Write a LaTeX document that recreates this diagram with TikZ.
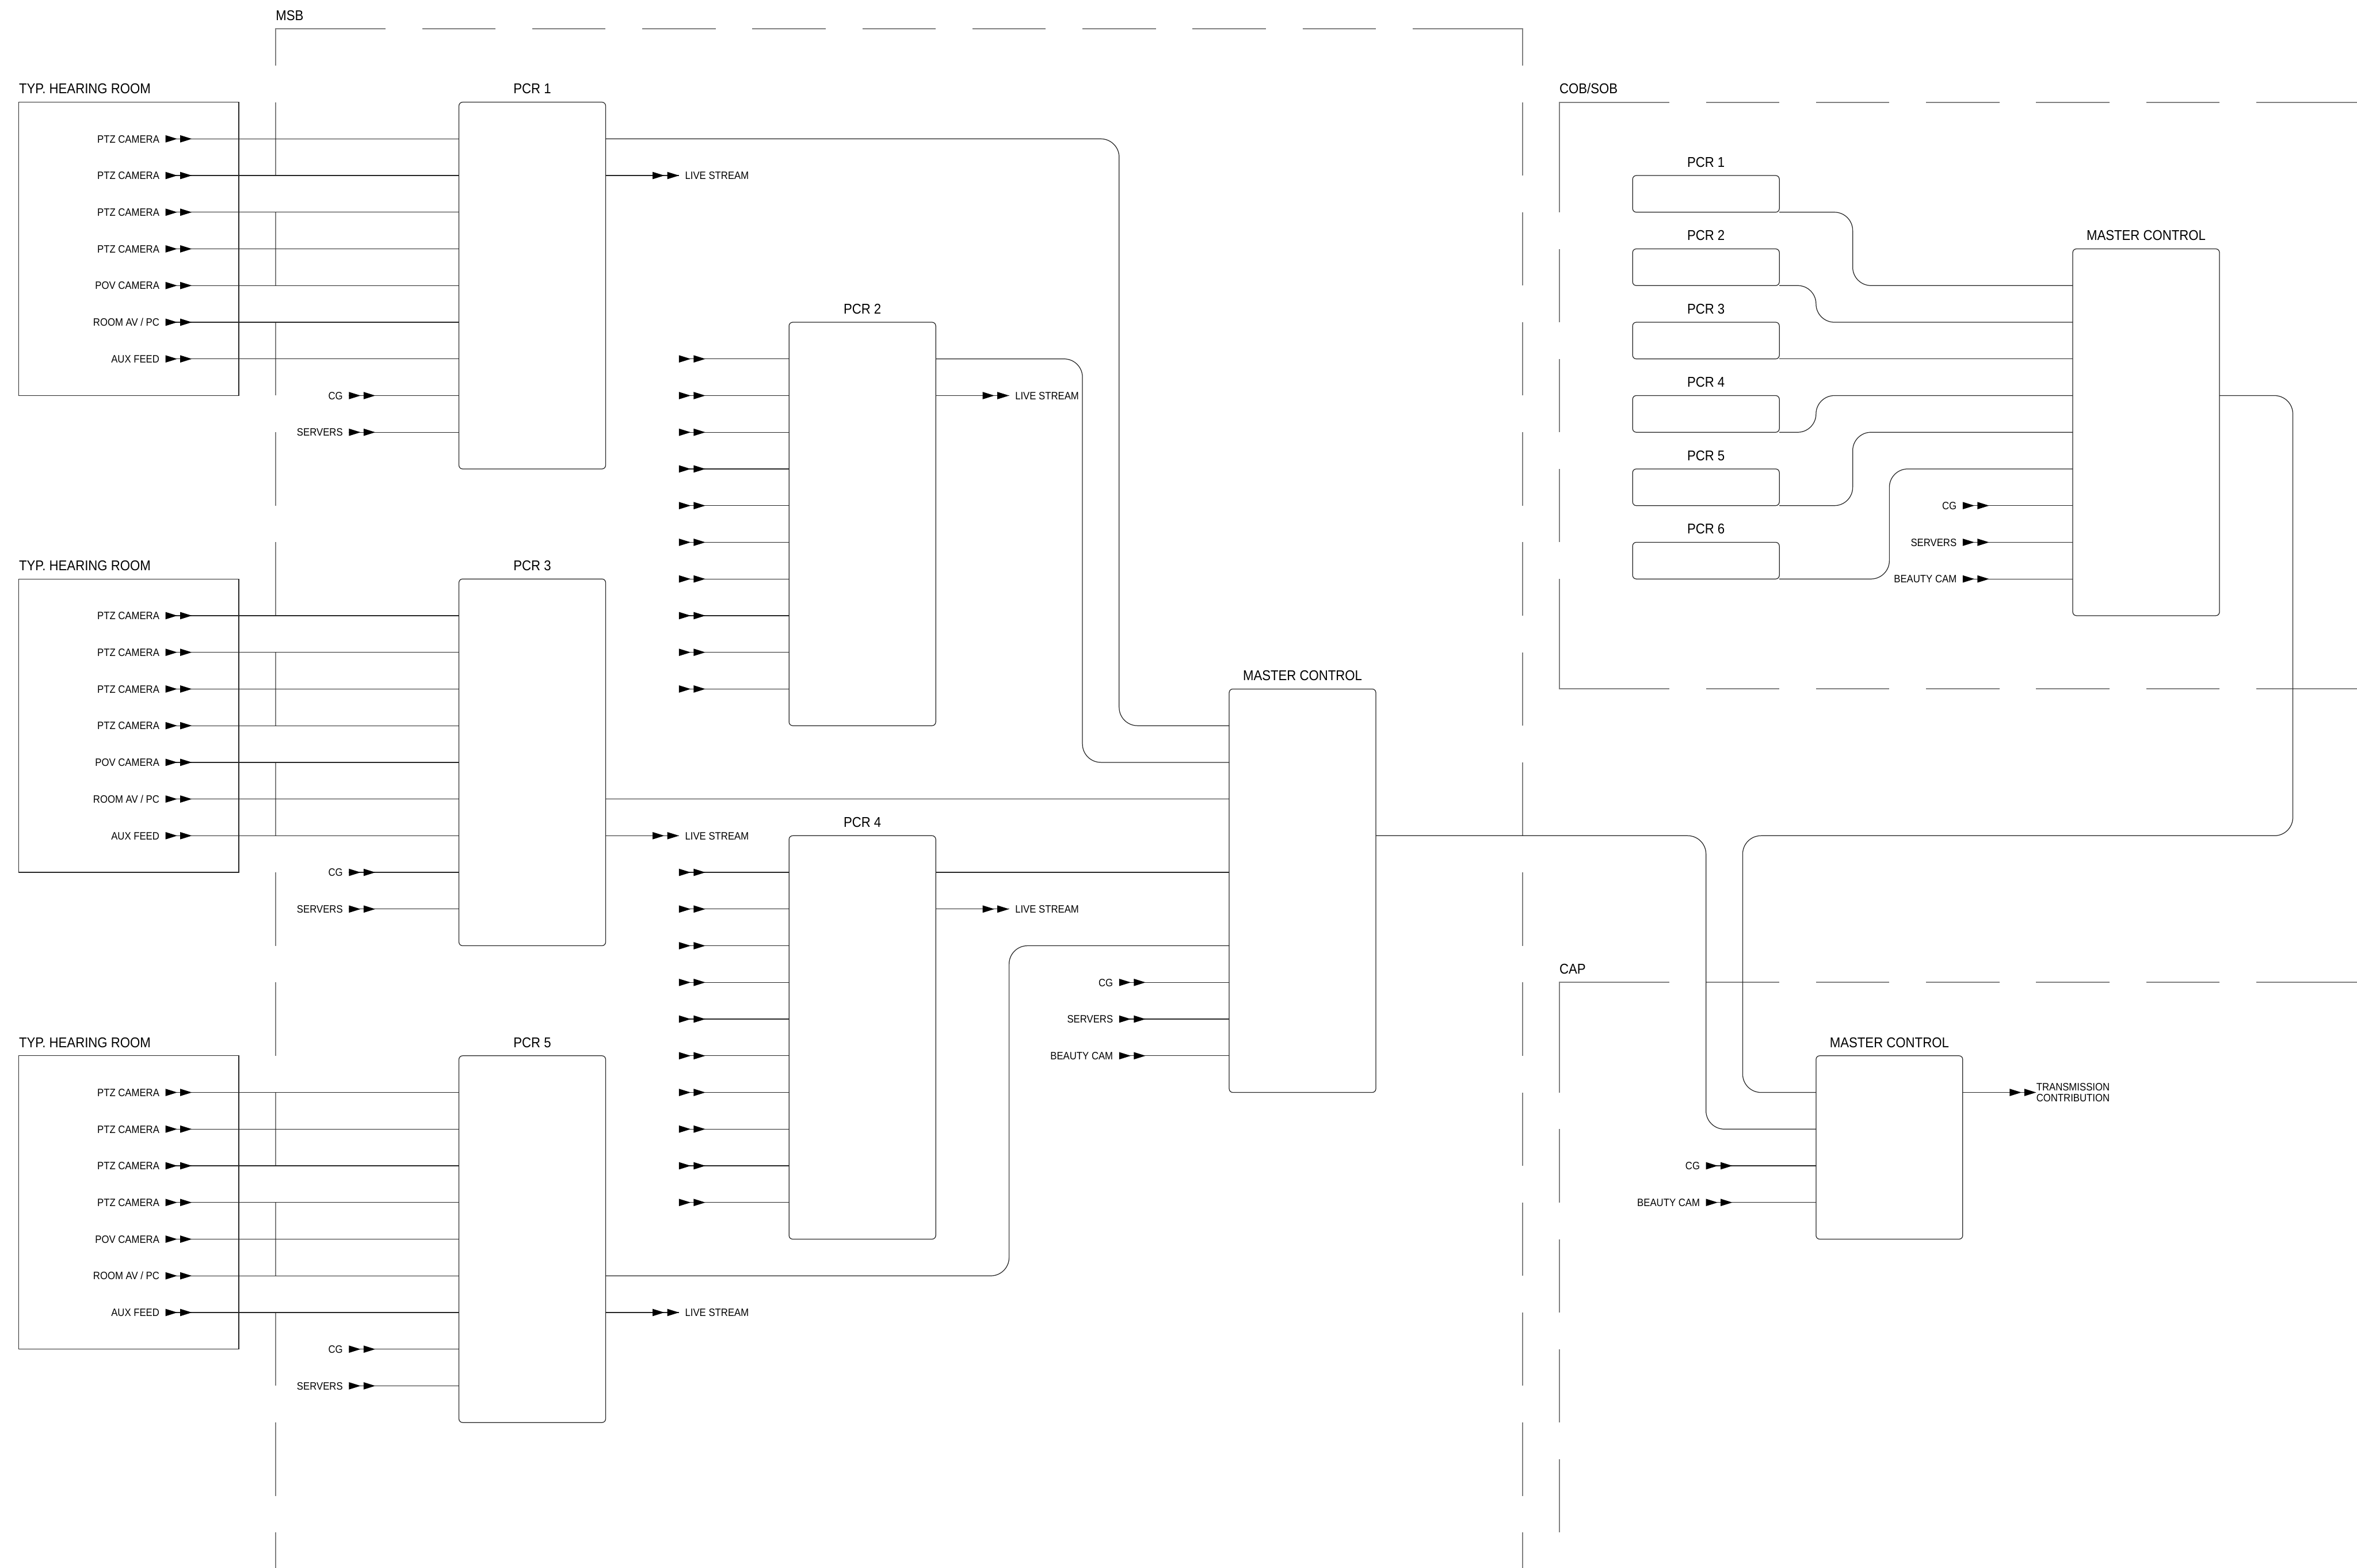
\documentclass[tikz,border=0pt]{standalone}
\usepackage{fontspec}
\setmainfont{Liberation Sans}[FakeStretch=0.9]
\usetikzlibrary{decorations.markings}
\begin{document}
\begin{tikzpicture}[x=1cm,y=-1cm,
  conn/.style={draw=black!85, line width=0.55pt},
  rt/.style={conn, rounded corners=0.5cm},
  pbox/.style={draw=black!85, line width=0.55pt, rounded corners=0.1cm, inner sep=0pt, outer sep=0pt, anchor=north west},
  roombox/.style={draw=black!85, line width=0.55pt, inner sep=0pt, outer sep=0pt, anchor=north west, minimum width=6cm, minimum height=8cm},
  region/.style={draw=black!50, line width=0.9pt},
  rdash/.style={region, dash pattern=on 2cm off 1cm},
  title/.style={font=\fontsize{11}{13}\selectfont, inner sep=0pt, anchor=base},
  ltitle/.style={title, anchor=base west},
  sig/.style={font=\fontsize{8.3}{9}\selectfont, text height=6pt, text depth=0pt, inner ysep=0pt, inner xsep=0.16cm, anchor=east},
  outl/.style={sig, anchor=west},
  inarr/.style={conn, postaction={decorate}, decoration={markings, mark=at position 0pt with {\fill[black] (0,-0.1) -- (0.32,0) -- (0,0.1) -- cycle; \fill[black] (0.4,-0.1) -- (0.72,0) -- (0.4,0.1) -- cycle;}}},
  outarr/.style={conn, postaction={decorate}, decoration={markings, mark=at position 0pt with {\fill[black] (0,0) -- (0.32,-0.1) -- (0.32,0.1) -- cycle; \fill[black] (0.4,0) -- (0.72,-0.1) -- (0.72,0.1) -- cycle;}}}
]
\useasboundingbox (-0.5125,-2.786) rectangle (63.75,39.964);
\clip (-0.5125,-2.786) rectangle (63.75,39.964);

% ---------------- regions ----------------
% MSB
\draw[rdash, dash phase=1cm] (7,-2) -- (7,41);
\draw[rdash, dash phase=1cm] (41,-2) -- (41,41);
\draw[rdash, dash phase=2cm] (7,-2) -- (41,-2);
\draw[region] (7,-1) -- (7,-2) -- (8,-2);
\draw[region] (40,-2) -- (41,-2) -- (41,-1);
\node[ltitle] (msbt) at (7,-2.23) {MSB};
% COB/SOB
\draw[rdash, dash phase=2cm] (42,0) -- (64,0);
\draw[rdash, dash phase=2cm] (42,16) -- (64,16);
\draw[rdash, dash phase=2cm] (42,0) -- (42,16);
\draw[region] (43,0) -- (42,0) -- (42,1);
\draw[region] (42,15) -- (42,16) -- (43,16);
\draw[region] (63,0) -- (64,0);
\draw[region] (63,16) -- (64,16);
\node[ltitle] (cobt) at (42,-0.23) {COB/SOB};
% CAP
\draw[rdash, dash phase=2cm] (42,24) -- (64,24);
\draw[rdash, dash phase=2cm] (42,24) -- (42,41);
\draw[region] (43,24) -- (42,24) -- (42,25);
\draw[region] (63,24) -- (64,24);
\node[ltitle] (capt) at (42,23.77) {CAP};

% ---------------- MSB boxes ----------------
\node[pbox, minimum width=4cm, minimum height=10cm] (mp1) at (12,0) {};
\node[pbox, minimum width=4cm, minimum height=11cm] (mp2) at (21,6) {};
\node[pbox, minimum width=4cm, minimum height=10cm] (mp3) at (12,13) {};
\node[pbox, minimum width=4cm, minimum height=11cm] (mp4) at (21,20) {};
\node[pbox, minimum width=4cm, minimum height=10cm] (mp5) at (12,26) {};
\node[pbox, minimum width=4cm, minimum height=11cm] (mmc) at (33,16) {};
\foreach \b/\t in {mp1/PCR 1,mp2/PCR 2,mp3/PCR 3,mp4/PCR 4,mp5/PCR 5,mmc/MASTER CONTROL}{
  \node[title] (\b t) at ([yshift=0.23cm]\b.north) {\t};
}

% hearing rooms and their feeds
\foreach \r/\ty/\p in {1/0/mp1,2/13/mp3,3/26/mp5}{
  \node[roombox] (room\r) at (0,\ty) {};
  \node[ltitle] (roomt\r) at ([yshift=0.23cm]room\r.north west) {TYP. HEARING ROOM};
  \foreach \t [count=\j] in {{PTZ CAMERA},{PTZ CAMERA},{PTZ CAMERA},{PTZ CAMERA},{POV CAMERA},{ROOM AV / PC},{AUX FEED}}{
    \node[sig] (r\r\j) at (4,\ty+\j) {\t};
    \draw[inarr] (r\r\j.east) -- (\p.west |- r\r\j.east);
  }
  \node[sig] (r\r8) at (9,\ty+8) {CG};
  \draw[inarr] (r\r8.east) -- (\p.west |- r\r8.east);
  \node[sig] (r\r9) at (9,\ty+9) {SERVERS};
  \draw[inarr] (r\r9.east) -- (\p.west |- r\r9.east);
}

% PCR 2 / PCR 4 unlabelled inputs
\foreach \k in {7,...,16}{
  \coordinate (atwo\k) at (18,\k);
  \draw[inarr] (atwo\k) -- (mp2.west |- atwo\k);
}
\foreach \k in {21,...,30}{
  \coordinate (afour\k) at (18,\k);
  \draw[inarr] (afour\k) -- (mp4.west |- afour\k);
}

% live streams
\foreach \n/\b/\x/\k in {1/mp1/18/2,2/mp2/27/8,3/mp3/18/20,4/mp4/27/22,5/mp5/18/33}{
  \node[outl] (ls\n) at (\x,\k) {LIVE STREAM};
  \draw[outarr] (ls\n.west) -- (\b.east |- ls\n.west);
}

% PCR -> master control
\draw[rt] (mp1.east |- 0,1) -- (30,1) -- (30,17) -- (mmc.west |- 0,17);
\draw[rt] (mp2.east |- 0,7) -- (29,7) -- (29,18) -- (mmc.west |- 0,18);
\draw[conn] (mp3.east |- 0,19) -- (mmc.west |- 0,19);
\draw[conn] (mp4.east |- 0,21) -- (mmc.west |- 0,21);
\draw[rt] (mp5.east |- 0,32) -- (27,32) -- (27,23) -- (mmc.west |- 0,23);
\foreach \t/\k in {CG/24,SERVERS/25,BEAUTY CAM/26}{
  \node[sig] (mi\k) at (30,\k) {\t};
  \draw[inarr] (mi\k.east) -- (mmc.west |- mi\k.east);
}

% ---------------- COB/SOB ----------------
\foreach \n in {1,...,6}{
  \node[pbox, minimum width=4cm, minimum height=1cm] (cp\n) at (44,2*\n) {};
  \node[title] (cp\n t) at ([yshift=0.23cm]cp\n.north) {PCR \n};
}
\node[pbox, minimum width=4cm, minimum height=10cm] (cmc) at (56,4) {};
\node[title] (cmct) at ([yshift=0.23cm]cmc.north) {MASTER CONTROL};
\draw[rt] (cp1.south east) -- (50,3) -- (50,5) -- (cmc.west |- 0,5);
\draw[rt] (cp2.south east) -- (49,5) -- (49,6) -- (cmc.west |- 0,6);
\draw[conn] (cp3.south east) -- (cmc.west |- cp3.south east);
\draw[rt] (cp4.south east) -- (49,9) -- (49,8) -- (cmc.west |- 0,8);
\draw[rt] (cp5.south east) -- (50,11) -- (50,9) -- (cmc.west |- 0,9);
\draw[rt] (cp6.south east) -- (51,13) -- (51,10) -- (cmc.west |- 0,10);
\foreach \t/\k in {CG/11,SERVERS/12,BEAUTY CAM/13}{
  \node[sig] (ci\k) at (53,\k) {\t};
  \draw[inarr] (ci\k.east) -- (cmc.west |- ci\k.east);
}

% ---------------- CAP ----------------
\node[pbox, minimum width=4cm, minimum height=5cm] (amc) at (49,26) {};
\node[title] (amct) at ([yshift=0.23cm]amc.north) {MASTER CONTROL};
\draw[rt] (mmc.east |- 0,20) -- (46,20) -- (46,28) -- (amc.west |- 0,28);
\draw[rt] (cmc.east |- 0,8) -- (62,8) -- (62,20) -- (47,20) -- (47,27) -- (amc.west |- 0,27);
\foreach \t/\k in {CG/29,BEAUTY CAM/30}{
  \node[sig] (ai\k) at (46,\k) {\t};
  \draw[inarr] (ai\k.east) -- (amc.west |- ai\k.east);
}
\node[font=\fontsize{8.3}{8.6}\selectfont, align=left, anchor=west, inner sep=0pt] (tx) at (55,27) {TRANSMISSION\\CONTRIBUTION};
\draw[outarr] (tx.west) -- (amc.east |- tx.west);
\end{tikzpicture}
\end{document}
